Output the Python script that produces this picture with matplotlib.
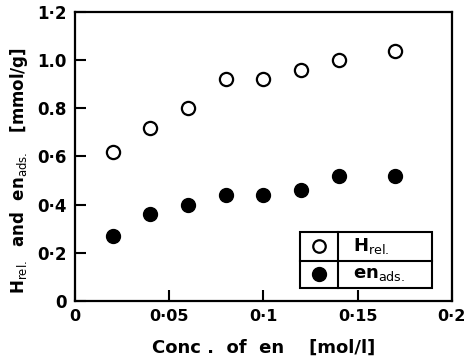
import numpy as np
import matplotlib.pyplot as plt
from matplotlib.patches import Rectangle

# data
conc = [0.02, 0.04, 0.06, 0.08, 0.10, 0.12, 0.14, 0.17]
h_rel = [0.62, 0.72, 0.80, 0.92, 0.92, 0.96, 1.00, 1.04]
en_ads = [0.27, 0.36, 0.40, 0.44, 0.44, 0.46, 0.52, 0.52]

xticks = [0, 0.05, 0.1, 0.15, 0.2]
xticklabels = ['0', '0·05', '0·1', '0·15', '0·2']
yticks = [0, 0.2, 0.4, 0.6, 0.8, 1.0, 1.2]
yticklabels = ['0', '0·2', '0·4', '0·6', '0.8', '1.0', '1·2']

plt.rcParams['font.family'] = ['DejaVu Sans']
plt.rcParams['mathtext.fontset'] = 'dejavusans'

fig = plt.figure(figsize=(4.72, 3.63), dpi=100)
ax = fig.add_axes([0.159, 0.171, 0.798, 0.796])

ax.plot(conc, h_rel, 'o', ms=9.5, mfc='white', mec='black', mew=1.6, clip_on=False)
ax.plot(conc, en_ads, 'o', ms=10, mfc='black', mec='black', clip_on=False)

ax.set_xlim(0, 0.2)
ax.set_ylim(0, 1.2)
ax.set_xticks(xticks)
ax.set_xticklabels(xticklabels, fontsize=11.5, fontweight='bold')
ax.set_yticks(yticks)
ax.set_yticklabels(yticklabels, fontsize=12, fontweight='bold')
ax.tick_params(direction='in', length=8, width=1.5, pad=6)
for s in ax.spines.values():
    s.set_linewidth(1.6)

ax.set_xlabel('Conc .  of  en    [mol/l]', fontsize=13, fontweight='bold')
ax.xaxis.set_label_coords(0.5, -0.13)
ax.set_ylabel(r'H$_{\mathrm{rel.}}$  and  en$_{\mathrm{ads.}}$   [mmol/g]',
              fontsize=12, fontweight='bold')
ax.yaxis.set_label_coords(-0.12, 0.45)

# boxed legend
x0, x1, xm = 0.596, 0.947, 0.697
y0, y1, ym = 0.045, 0.239, 0.138
ax.add_patch(Rectangle((x0, y0), x1 - x0, y1 - y0, transform=ax.transAxes,
                       fill=True, fc='white', ec='black', lw=1.5, zorder=5))
ax.plot([xm, xm], [y0, y1], color='black', lw=1.5, transform=ax.transAxes, zorder=6)
ax.plot([x0, x1], [ym, ym], color='black', lw=1.5, transform=ax.transAxes, zorder=6)
ax.plot((x0 + xm) / 2, (ym + y1) / 2, 'o', ms=9, mfc='white', mec='black', mew=1.6,
        transform=ax.transAxes, zorder=7)
ax.plot((x0 + xm) / 2, (y0 + ym) / 2, 'o', ms=10, mfc='black', mec='black',
        transform=ax.transAxes, zorder=7)
ax.text(xm + 0.04, (ym + y1) / 2, r'H$_{\mathrm{rel.}}$', transform=ax.transAxes,
        fontsize=13, fontweight='bold', va='center', zorder=7)
ax.text(xm + 0.04, (y0 + ym) / 2, r'en$_{\mathrm{ads.}}$', transform=ax.transAxes,
        fontsize=13, fontweight='bold', va='center', zorder=7)

fig.savefig('out.png', dpi=100)
